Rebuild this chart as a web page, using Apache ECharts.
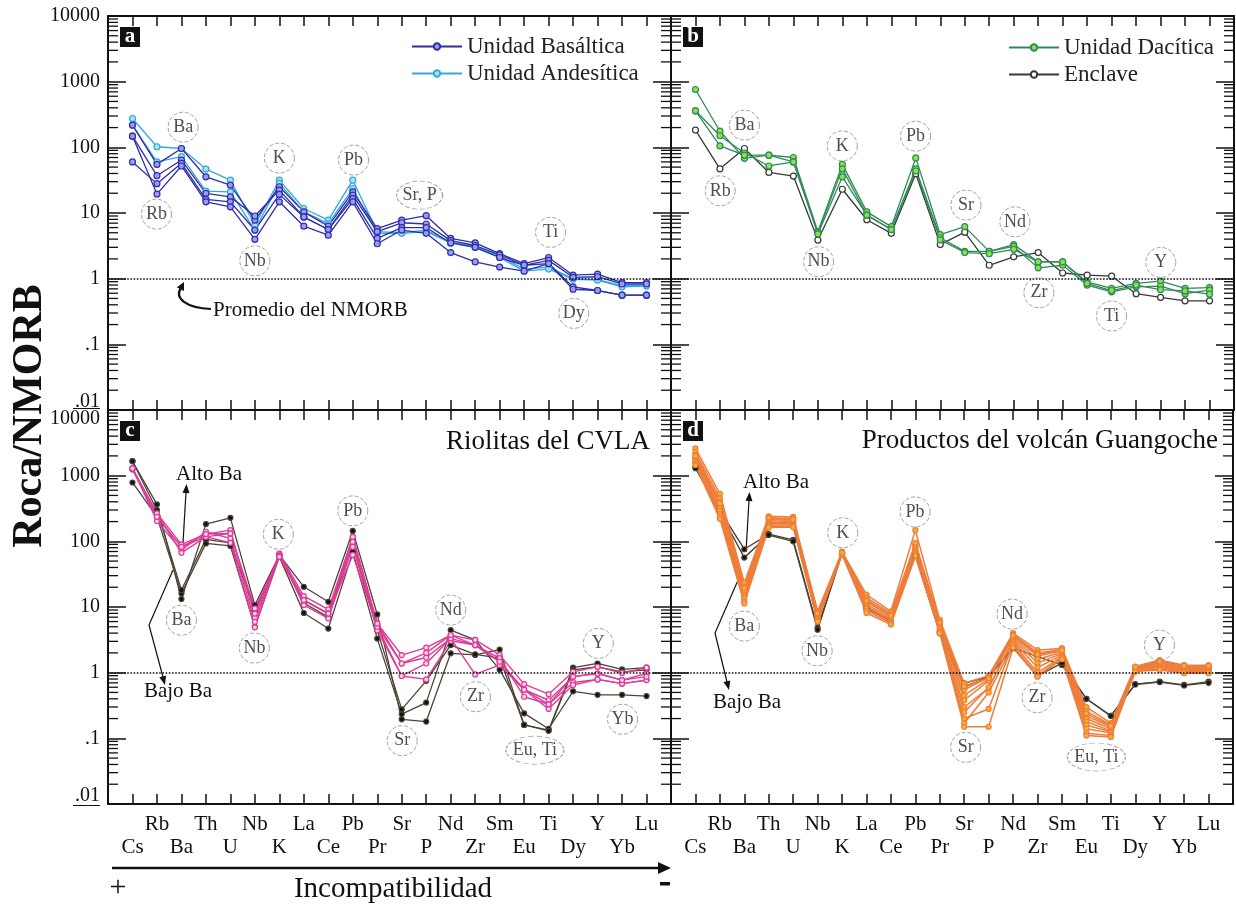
<!DOCTYPE html>
<html>
<head>
<meta charset="utf-8">
<script src="https://cdn.jsdelivr.net/npm/echarts@6/dist/echarts.min.js"></script>
<style>
  html, body { margin: 0; padding: 0; background: #fff; }
  #chart { width: 1236px; height: 909px; }
</style>
</head>
<body>
<div id="chart"></div>
<script>
// Multi-element diagrams normalised to average N-MORB (Roca/NMORB)
const FONT = '"Liberation Serif", "DejaVu Serif", serif';

// Element order along the horizontal axis (decreasing incompatibility)
const elements = ['Cs','Rb','Ba','Th','U','Nb','K','La','Ce','Pb','Pr','Sr','P','Nd','Zr','Sm','Eu','Ti','Dy','Y','Yb','Lu'];

// Decade tick values for the log axis
const decadeLabels = ['.01', '.1', '1', '10', '100', '1000', '10000'];

// ---- panel a ----
const basaltica = [
  [218, 55, 96, 35.6, 26.6, 7.8, 25.1, 10.4, 6.3, 21, 5.8, 7.8, 9.1, 4.1, 3.5, 2.4, 1.7, 2.1, 1.13, 1.17, 0.87, 0.87],
  [148, 37, 64, 19.9, 17.6, 9.0, 22.3, 8.7, 5.6, 18.7, 5.2, 7.1, 6.8, 3.8, 3.2, 2.3, 1.6, 1.9, 1.05, 1.07, 0.83, 0.83],
  [60, 28, 57, 16.1, 14.8, 5.5, 19.2, 8.7, 5.6, 16.6, 4.1, 6.0, 6.0, 3.5, 3.0, 2.1, 1.6, 1.7, 0.75, 0.66, 0.56, 0.56],
  [148, 19.4, 52, 14.8, 12.4, 3.97, 14.8, 6.3, 4.6, 14.8, 3.4, 5.5, 4.9, 2.5, 1.8, 1.5, 1.3, 1.7, 0.69, 0.66, 0.56, 0.56]
];
const andesitica = [
  [275, 102, 96, 46.6, 31.6, 6.5, 31.6, 11.7, 7.8, 31.6, 5.2, 5.0, 5.5, 3.6, 3.1, 2.2, 1.4, 1.5, 1.0, 0.97, 0.78, 0.8],
  [218, 60, 72, 21.5, 21, 5.5, 28.2, 10.4, 6.9, 23.6, 4.9, 4.9, 5.2, 3.5, 3.0, 2.1, 1.3, 1.4, 0.98, 0.95, 0.75, 0.77]
];

// ---- panel b ----
const dacitica = [
  [760, 176, 68, 76, 70, 5.2, 55, 10.4, 6.2, 69, 4.7, 6.2, 2.6, 3.3, 1.8, 1.8, 0.89, 0.71, 0.85, 0.92, 0.71, 0.73],
  [360, 150, 82, 52, 60, 5.0, 47, 9.3, 5.6, 47, 4.2, 2.6, 2.6, 3.1, 1.46, 1.6, 0.80, 0.63, 0.75, 0.77, 0.59, 0.67],
  [360, 105, 76, 76, 60, 4.8, 35.6, 9.3, 5.6, 43.6, 3.9, 2.5, 2.4, 2.8, 1.8, 1.8, 0.85, 0.66, 0.80, 0.68, 0.65, 0.58]
];
const enclave = [183, 47, 96, 41.5, 36.5, 3.87, 23, 7.9, 4.9, 39.6, 3.3, 5.1, 1.6, 2.15, 2.5, 1.22, 1.13, 1.09, 0.59, 0.52, 0.46, 0.46];

// ---- panel c ----
const riolitas = [
  [1290, 266, 89.7, 129, 148, 6.9, 65, 14.6, 9.2, 117, 5.6, 1.85, 2.4, 3.73, 3.15, 1.86, 0.67, 0.47, 1.03, 1.23, 0.99, 1.19],
  [1250, 236, 82.5, 117, 132, 7.95, 62, 12.7, 7.95, 98, 5.0, 1.38, 1.7, 3.33, 2.63, 1.47, 0.55, 0.38, 0.87, 0.97, 0.77, 0.97],
  [1290, 204, 73.4, 140, 111, 5.95, 63, 10.7, 6.7, 82.5, 4.4, 0.89, 0.79, 3.06, 2.63, 1.66, 0.43, 0.33, 0.71, 0.79, 0.68, 0.77],
  [1250, 266, 66.8, 117, 95, 4.9, 60, 12.7, 7.95, 62, 5.0, 0.89, 1.38, 3.33, 0.94, 1.31, 0.55, 0.28, 0.65, 0.79, 0.68, 0.77],
  [1290, 236, 82.5, 129, 132, 9.5, 58, 12.7, 7.95, 117, 5.6, 1.38, 2.0, 3.73, 2.63, 1.47, 0.55, 0.33, 0.87, 0.97, 0.77, 0.87]
];
const riolitasBajoBa = [
  [1660, 365, 13.2, 183, 228, 10.7, 62, 20.3, 12, 144, 7.7, 0.195, 0.18, 1.97, 1.86, 2.25, 0.16, 0.133, 1.19, 1.38, 1.12, 1.19],
  [787, 236, 16.1, 93, 85, 5.0, 58, 8.1, 4.7, 69, 3.3, 0.234, 0.35, 4.45, 3.15, 1.11, 0.24, 0.14, 0.52, 0.46, 0.46, 0.44],
  [1660, 298, 18.1, 107, 95, 9.0, 60, 11.5, 7.0, 98, 4.4, 0.276, 0.75, 2.63, 1.9, 1.66, 0.16, 0.13, 1.10, 1.23, 1.03, 1.10]
];

// ---- panel d ----
const guangoche = [
  [2600, 530, 23.4, 240, 235, 8.6, 70, 15.5, 8.6, 148, 6.4, 0.69, 0.90, 4.0, 2.2, 2.36, 0.30, 0.17, 1.24, 1.56, 1.30, 1.30],
  [2300, 450, 20.5, 225, 225, 8.2, 68, 14.0, 8.0, 90, 6.0, 0.55, 0.85, 3.8, 2.0, 2.25, 0.26, 0.16, 1.20, 1.45, 1.25, 1.25],
  [2100, 400, 18.5, 215, 210, 7.8, 67, 13.0, 7.6, 85, 5.6, 0.45, 0.80, 3.6, 1.8, 2.15, 0.22, 0.15, 1.18, 1.40, 1.20, 1.20],
  [1900, 360, 17.0, 205, 200, 7.5, 66, 12.0, 7.2, 80, 5.3, 0.38, 0.75, 3.4, 1.6, 2.05, 0.20, 0.14, 1.15, 1.35, 1.15, 1.16],
  [1800, 320, 15.5, 195, 190, 7.2, 66, 11.0, 6.8, 75, 5.0, 0.30, 0.58, 3.2, 1.4, 1.95, 0.18, 0.13, 1.12, 1.30, 1.12, 1.12],
  [1700, 290, 14.5, 185, 185, 6.9, 65, 10.2, 6.4, 72, 4.7, 0.25, 0.60, 3.0, 1.2, 1.85, 0.16, 0.125, 1.10, 1.25, 1.08, 1.08],
  [1600, 260, 13.5, 178, 178, 6.6, 65, 9.5, 6.0, 68, 4.4, 0.20, 0.28, 2.8, 1.0, 1.75, 0.14, 0.12, 1.08, 1.20, 1.04, 1.04],
  [1500, 240, 12.2, 170, 170, 6.3, 64, 8.8, 5.7, 64, 4.2, 0.17, 0.50, 2.6, 0.9, 1.68, 0.12, 0.11, 1.05, 1.15, 1.00, 1.00],
  [1450, 220, 11.3, 163, 165, 6.0, 63, 8.1, 5.4, 60, 4.0, 0.15, 0.15, 2.4, 0.87, 1.6, 0.11, 0.105, 1.04, 1.10, 0.98, 0.98],
  [2000, 380, 19.5, 230, 215, 8.0, 67, 12.5, 7.4, 95, 5.8, 0.62, 0.82, 3.7, 1.9, 2.2, 0.24, 0.155, 1.22, 1.50, 1.28, 1.27]
];
const guangocheAltoBa = [
  [1355, 293, 75.8, 129, 105, 4.8, 67, 9.3, 6.2, 63, 4.0, 0.69, 0.87, 2.36, 1.76, 1.31, 0.40, 0.22, 0.67, 0.73, 0.65, 0.73],
  [1300, 280, 56.5, 125, 100, 4.5, 66, 9.8, 6.0, 60, 4.2, 0.61, 0.85, 2.4, 0.89, 1.4, 0.40, 0.22, 0.66, 0.72, 0.64, 0.70]
];

// Circled element callouts: [text, element position, value]
const notesA = [['Ba',2.07,203],['Rb',0.98,9.6],['K',6.0,68.5],['Pb',9.03,63.9],['Nb',5.0,1.87],['Sr, P',11.73,18.7],['Ti',17.08,5.07],['Dy',18.03,0.296]];
const notesB = [['Ba',2.0,218],['Rb',1.01,21.8],['K',6.0,105],['Pb',8.99,148],['Nb',5.03,1.81],['Sr',11.05,13.2],['Nd',13.05,7.35],['Zr',14.03,0.61],['Ti',17.0,0.27],['Y',19.01,1.77]];
const notesC = [['Ba',2.0,6.3],['Nb',4.98,2.37],['K',5.96,128],['Pb',9.0,291],['Nd',13.0,8.98],['Sr',11.02,0.092],['Zr',14.01,0.43],['Eu, Ti',16.44,0.066],['Y',19.03,2.79],['Yb',20.02,0.195]];
const notesD = [['Ba',2.0,5.12],['Nb',4.98,2.15],['K',6.03,135],['Pb',8.99,281],['Nd',12.96,7.8],['Sr',11.06,0.073],['Zr',13.98,0.415],['Eu, Ti',16.41,0.052],['Y',18.99,2.63]];

// Minor tick values of the log scale (2..9 in every decade)
const minorTickValues = [];
for (let e = -2; e < 4; e++) for (let m = 2; m <= 9; m++) minorTickValues.push(m * Math.pow(10, e));

const INK = '#111';
const MINOR_LEN = 10;

const gridBoxes = [
  { left: 108, top: 16 },
  { left: 671, top: 16 },
  { left: 108, top: 410 },
  { left: 671, top: 410 }
];
const grid = gridBoxes.map(g => ({ left: g.left, top: g.top, width: 563, height: 394 }));

function xAxesFor(g, withLabels) {
  const base = {
    gridIndex: g, type: 'value', min: -1, max: 22, interval: 1,
    axisLine: { show: true, onZero: false, lineStyle: { color: INK, width: 2 } },
    axisTick: { show: true, inside: true, length: 10, lineStyle: { color: INK, width: 1.5 } },
    splitLine: { show: false }
  };
  const bottomLabel = withLabels ? {
    show: true, margin: 10,
    formatter: v => {
      const i = Math.round(v);
      const e = elements[i];
      if (!e) return '';
      return (i % 2 === 1) ? '{u|' + e + '}' : '{l|' + e + '}';
    },
    rich: {
      u: { fontFamily: FONT, fontSize: 21, color: INK },
      l: { fontFamily: FONT, fontSize: 21, color: INK, padding: [23, 0, 0, 0] }
    }
  } : { show: false };
  return [
    Object.assign({}, base, { position: 'bottom', axisLabel: bottomLabel }),
    Object.assign({}, base, { position: 'top', axisLabel: { show: false } })
  ];
}

function yAxesFor(g, labelMode) {
  const base = {
    gridIndex: g, type: 'log', logBase: 10, min: 0.01, max: 10000, splitNumber: 6,
    axisLine: { show: true, onZero: false, lineStyle: { color: INK, width: 2 } },
    axisTick: { show: true, inside: true, length: 18, lineStyle: { color: INK, width: 1.5 } },
    splitLine: { show: false },
    minorTick: { show: false }
  };
  const leftLabel = labelMode ? {
    show: true, margin: 8, fontFamily: FONT, fontSize: 20, color: INK,
    formatter: v => {
      const e = Math.round(Math.log10(v));
      const txt = decadeLabels[e + 2];
      if (e === -2) return '{lo|' + txt + '}';
      if (e === 4 && labelMode === 'lower') return '{hi|' + txt + '}';
      return txt;
    },
    rich: {
      lo: { fontFamily: FONT, fontSize: 20, color: INK, padding: [0, 0, 17, 0] },
      hi: { fontFamily: FONT, fontSize: 20, color: INK, padding: [18, 0, 0, 0] }
    }
  } : { show: false };
  return [
    Object.assign({}, base, { position: 'left', axisLabel: leftLabel }),
    Object.assign({}, base, { position: 'right', axisLabel: { show: false } })
  ];
}

function lineSeries(g, name, vals, stroke, fill, size, width) {
  return {
    type: 'line', name: name, xAxisIndex: 2 * g, yAxisIndex: 2 * g,
    data: vals.map((v, i) => [i, v]),
    symbol: 'circle', symbolSize: size, showSymbol: true,
    lineStyle: { color: stroke, width: width },
    itemStyle: { color: fill, borderColor: stroke, borderWidth: 1.2 },
    emphasis: { disabled: true }, silent: true, z: 3
  };
}

function normLine(g) {
  return {
    type: 'line', xAxisIndex: 2 * g, yAxisIndex: 2 * g, data: [], silent: true,
    markLine: {
      silent: true, symbol: 'none', label: { show: false },
      lineStyle: { type: 'dotted', color: INK, width: 1.6 },
      data: [{ yAxis: 1 }]
    }
  };
}

function minorTickSeries(g) {
  return {
    type: 'custom', xAxisIndex: 2 * g, yAxisIndex: 2 * g, silent: true, z: 1, clip: false,
    data: minorTickValues.map(v => [0, v]),
    renderItem: function (params, api) {
      const y = api.coord([0, api.value(1)])[1];
      const cs = params.coordSys;
      return {
        type: 'group', children: [
          { type: 'line', shape: { x1: cs.x, y1: y, x2: cs.x + MINOR_LEN, y2: y }, style: { stroke: INK, lineWidth: 1.3 } },
          { type: 'line', shape: { x1: cs.x + cs.width - MINOR_LEN, y1: y, x2: cs.x + cs.width, y2: y }, style: { stroke: INK, lineWidth: 1.3 } }
        ]
      };
    }
  };
}

function noteSeries(g, notes) {
  return {
    type: 'scatter', xAxisIndex: 2 * g, yAxisIndex: 2 * g, silent: true, z: 6,
    symbol: 'circle',
    data: notes.map(n => ({
      name: n[0], value: [n[1], n[2]],
      symbolSize: n[0].length > 3 ? [n[0].length > 5 ? 58 : 46, 28] : 30
    })),
    itemStyle: { color: 'rgba(255,255,255,0)', borderColor: '#8c8c8c', borderWidth: 1, borderType: 'dashed' },
    label: { show: true, position: 'inside', formatter: '{b}', fontFamily: FONT, fontSize: 18, color: '#222' }
  };
}

const series = [];
[0, 1, 2, 3].forEach(g => { series.push(minorTickSeries(g)); series.push(normLine(g)); });

// panel a
andesitica.forEach(v => series.push(lineSeries(0, 'Unidad Andesítica', v, '#35a7db', '#a6e2f6', 6, 1.3)));
basaltica.forEach(v => series.push(lineSeries(0, 'Unidad Basáltica', v, '#2e2eab', '#9c9cee', 6, 1.3)));
// panel b
series.push(lineSeries(1, 'Enclave', enclave, '#383838', '#ffffff', 6, 1.3));
dacitica.forEach(v => series.push(lineSeries(1, 'Unidad Dacítica', v, '#2e8b57', '#8be04e', 6, 1.3)));
// panel c
riolitasBajoBa.forEach(v => series.push(lineSeries(2, 'Riolitas (bajo Ba)', v, '#4d4436', '#111111', 5, 1.3)));
riolitas.forEach(v => series.push(lineSeries(2, 'Riolitas del CVLA', v, '#dc3c96', '#fbd3ea', 5, 1.4)));
// panel d
guangocheAltoBa.forEach(v => series.push(lineSeries(3, 'Guangoche (alto Ba)', v, '#4d4436', '#111111', 5, 1.4)));
guangoche.forEach(v => series.push(lineSeries(3, 'Productos del volcán Guangoche', v, '#ee7d3b', '#f6b02f', 5, 1.5)));

series.push(noteSeries(0, notesA), noteSeries(1, notesB), noteSeries(2, notesC), noteSeries(3, notesD));

// ---- annotations drawn on top of the plot ----
function arrowHead(x1, y1, x2, y2, len, half) {
  const dx = x2 - x1, dy = y2 - y1, d = Math.hypot(dx, dy);
  const ux = dx / d, uy = dy / d;
  const bx = x2 - ux * len, by = y2 - uy * len;
  return { type: 'polygon', shape: { points: [[x2, y2], [bx - uy * half, by + ux * half], [bx + uy * half, by - ux * half]] }, style: { fill: INK } };
}
function txt(x, y, s, size, opts) {
  return Object.assign({ type: 'text', x: x, y: y, style: { text: s, font: size + 'px ' + FONT, fill: INK, align: 'center', verticalAlign: 'middle' } }, opts || {});
}
function badge(x, y, letter) {
  return {
    type: 'group', x: x, y: y, children: [
      { type: 'rect', shape: { x: 0, y: 0, width: 20, height: 20 }, style: { fill: '#111' } },
      { type: 'text', x: 10, y: 10, style: { text: letter, font: 'bold 21px ' + FONT, fill: '#fff', align: 'center', verticalAlign: 'middle' } }
    ]
  };
}

const graphic = [
  // vertical title
  { type: 'text', x: 30, y: 416, rotation: Math.PI / 2, style: { text: 'Roca/NMORB', font: 'bold 42px ' + FONT, fill: INK, align: 'center', verticalAlign: 'middle' } },
  // panel letters
  badge(120, 27, 'a'), badge(683, 27, 'b'), badge(120, 421, 'c'), badge(683, 421, 'd'),
  // panel captions
  { type: 'text', x: 650, y: 442, style: { text: 'Riolitas del CVLA', font: '27px ' + FONT, fill: INK, align: 'right', verticalAlign: 'middle' } },
  { type: 'text', x: 1218, y: 441, style: { text: 'Productos del volcán Guangoche', font: '27px ' + FONT, fill: INK, align: 'right', verticalAlign: 'middle' } },
  // underline of the .01 labels
  { type: 'line', shape: { x1: 73, y1: 408.5, x2: 100, y2: 408.5 }, style: { stroke: INK, lineWidth: 1 } },
  { type: 'line', shape: { x1: 73, y1: 805.5, x2: 100, y2: 805.5 }, style: { stroke: INK, lineWidth: 1 } },
  // NMORB reference note
  { type: 'text', x: 213, y: 310, style: { text: 'Promedio del NMORB', font: '21px ' + FONT, fill: INK, align: 'left', verticalAlign: 'middle' } },
  { type: 'bezierCurve', shape: { x1: 211, y1: 309, cpx1: 186, cpy1: 308, cpx2: 174, cpy2: 298, x2: 181, y2: 288 }, style: { stroke: INK, lineWidth: 2.2, fill: null } },
  arrowHead(178, 294, 184, 282, 8, 4),
  // Alto / Bajo Ba, panel c
  txt(209, 474, 'Alto Ba', 21),
  { type: 'line', shape: { x1: 183, y1: 543, x2: 186, y2: 492 }, style: { stroke: INK, lineWidth: 1.2 } },
  arrowHead(183, 543, 186.5, 484, 9, 3.5),
  txt(178, 691, 'Bajo Ba', 21),
  { type: 'polyline', shape: { points: [[173, 570], [149, 625], [163, 677]] }, style: { stroke: INK, lineWidth: 1.2, fill: null } },
  arrowHead(149, 625, 165, 685, 9, 3.5),
  // Alto / Bajo Ba, panel d
  txt(776, 482, 'Alto Ba', 21),
  { type: 'line', shape: { x1: 746, y1: 552, x2: 749, y2: 500 }, style: { stroke: INK, lineWidth: 1.2 } },
  arrowHead(746, 552, 749.5, 492, 9, 3.5),
  txt(747, 702, 'Bajo Ba', 21),
  { type: 'polyline', shape: { points: [[739, 578], [715, 633], [727, 682]] }, style: { stroke: INK, lineWidth: 1.2, fill: null } },
  arrowHead(715, 633, 729, 690, 9, 3.5),
  // incompatibility arrow
  { type: 'line', shape: { x1: 112, y1: 868, x2: 660, y2: 868 }, style: { stroke: INK, lineWidth: 2.4 } },
  arrowHead(112, 868, 671, 868, 13, 6),
  txt(118, 888, '+', 30),
  txt(393, 889, 'Incompatibilidad', 29),
  { type: 'rect', shape: { x: 660, y: 882, width: 10, height: 3.5 }, style: { fill: INK } }
];

const legendText = { fontFamily: FONT, fontSize: 23, color: '#222' };
const option = {
  animation: false,
  backgroundColor: '#ffffff',
  grid: grid,
  xAxis: [].concat(xAxesFor(0, false), xAxesFor(1, false), xAxesFor(2, true), xAxesFor(3, true)),
  yAxis: [].concat(yAxesFor(0, 'upper'), yAxesFor(1, null), yAxesFor(2, 'lower'), yAxesFor(3, null)),
  legend: [
    { orient: 'vertical', left: 406, top: 30, itemWidth: 50, itemHeight: 8, itemGap: 4, selectedMode: false,
      textStyle: legendText, data: ['Unidad Basáltica', 'Unidad Andesítica'] },
    { orient: 'vertical', left: 1003, top: 31, itemWidth: 50, itemHeight: 8, itemGap: 4, selectedMode: false,
      textStyle: legendText, data: ['Unidad Dacítica', 'Enclave'] }
  ],
  series: series,
  graphic: graphic
};

const chart = echarts.init(document.getElementById('chart'));
chart.setOption(option);
</script>
</body>
</html>
